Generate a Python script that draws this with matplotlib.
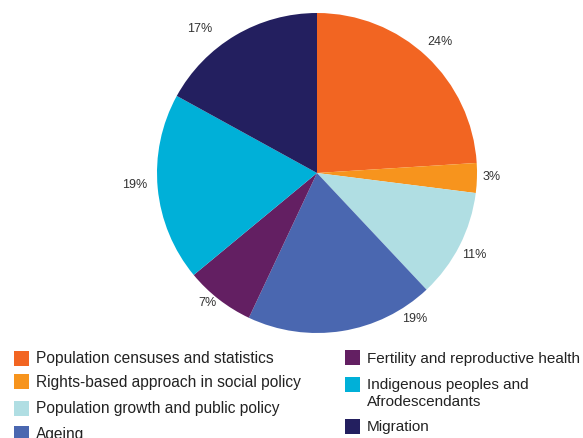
import matplotlib
matplotlib.use('Agg')
import numpy as np
from matplotlib import pyplot as plt
from matplotlib.patches import Rectangle

categories = ['Population censuses and statistics',
              'Rights-based approach in social policy',
              'Population growth and public policy',
              'Ageing',
              'Fertility and reproductive health',
              'Indigenous peoples and\nAfrodescendants',
              'Migration']
shares = [24, 3, 11, 19, 7, 19, 17]
colors = ['#F26522', '#F7941D', '#B0DEE3', '#4A67B0', '#631F62', '#00B0D8', '#231F5F']

# where the original puts each percentage label: angular nudge (deg) and radius
label_nudge = [0, 0.5, -0.6, 24.7, -2.4, -1.6, 8.5]
label_radius = [1.125, 1.09, 1.11, 1.10, 1.06, 1.14, 1.16]

plt.rcParams['font.family'] = ['Liberation Sans', 'DejaVu Sans']

W, H = 583, 438
fig = plt.figure(figsize=(W / 100, H / 100), dpi=100)

# pie centre ~ (317, 173) px, radius ~160 px
cx, cy, r = 317, 173, 160
ax = fig.add_axes([(cx - r) / W, (H - cy - r) / H, 2 * r / W, 2 * r / H])
wedges, texts = ax.pie(shares, colors=colors, startangle=90, counterclock=False,
                       labels=['{}%'.format(s) for s in shares],
                       wedgeprops=dict(linewidth=0),
                       textprops=dict(fontsize=9, color='#333333'))
for w, t, nudge, rad in zip(wedges, texts, label_nudge, label_radius):
    ang = np.deg2rad((w.theta1 + w.theta2) / 2 + nudge)
    t.set_position((rad * np.cos(ang), rad * np.sin(ang)))
    t.set_ha('center')
    t.set_va('center')
ax.set_aspect('equal')
ax.set_xlim(-1, 1)
ax.set_ylim(-1, 1)


def px(x, y):
    # pixel position (from top-left) -> figure fraction
    return x / W, 1 - y / H


def legend_column(x, tops, idx, size):
    for top, i in zip(tops, idx):
        fig.add_artist(Rectangle(px(x, top + 15), 15 / W, 15 / H,
                                 transform=fig.transFigure,
                                 facecolor=wedges[i].get_facecolor(), linewidth=0))
        for k, line in enumerate(categories[i].split('\n')):
            fig.text(*px(x + 22, top + 12.5 + 17 * k), line, fontsize=size,
                     color='#222222', va='baseline', ha='left')


# legend laid out in two columns as in the original
legend_column(14, [351, 374, 401, 426], [0, 1, 2, 3], 11.2)
legend_column(345, [350, 377, 419], [4, 5, 6], 11)

fig.savefig('out.png', dpi=100)
